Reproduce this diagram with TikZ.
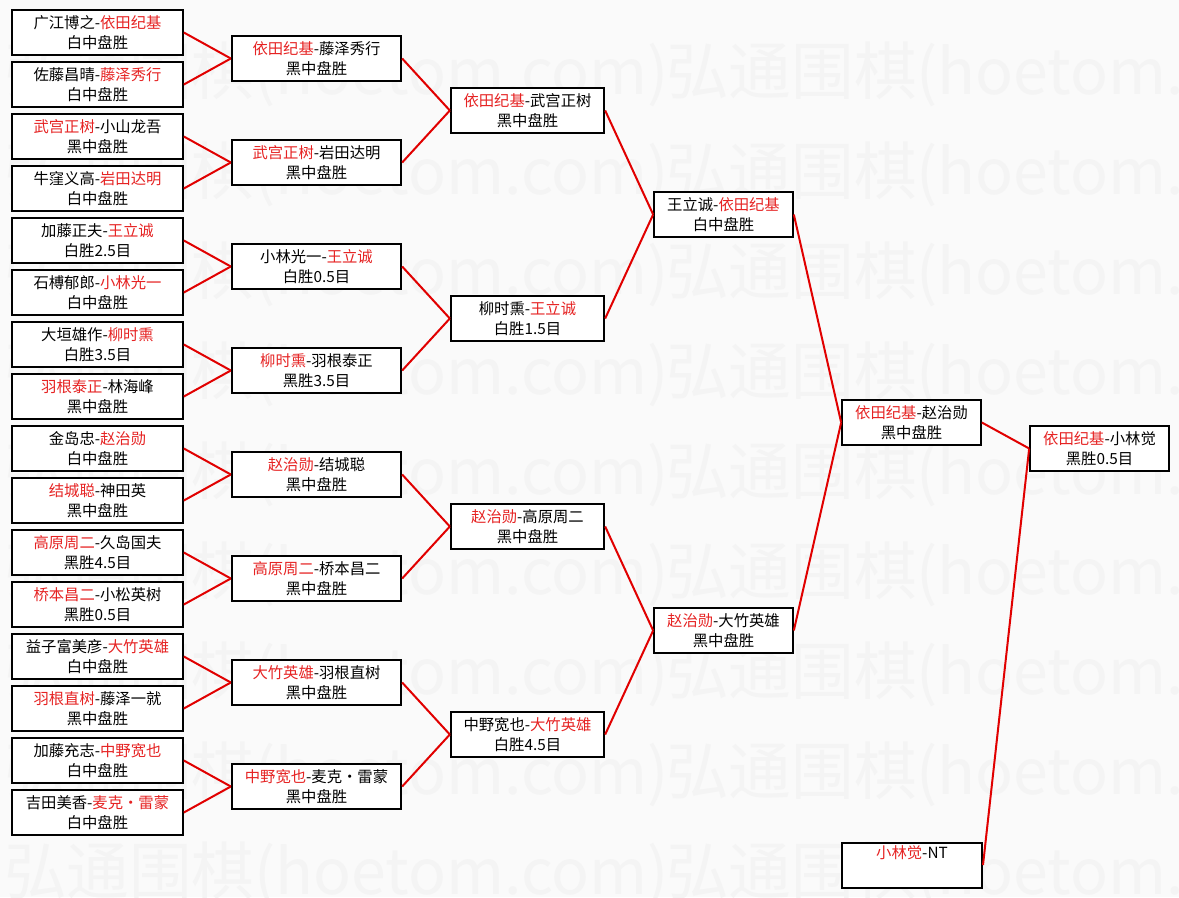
\documentclass[tikz,border=0pt]{standalone}
\usepackage{fontspec}
\setmainfont{Noto Sans CJK SC}
\usepackage{tikz}
\usetikzlibrary{positioning}
\definecolor{winred}{RGB}{230,35,35}
\definecolor{lnred}{RGB}{225,0,0}
\newcommand{\rd}[1]{\textcolor{winred}{#1}}

\begin{document}
\begin{tikzpicture}[x=0.75pt, y=-0.75pt, line width=1.5pt,
   r1/.style={minimum width=128pt},
   r2/.style={minimum width=127pt},
   r3/.style={minimum width=115pt},
   r4/.style={minimum width=104pt}]
   \fill[black!2] (0,0) rectangle (1179,897);
   \useasboundingbox (0,0) rectangle (1179,897);
   % watermark
   \begin{scope}[every node/.style={anchor=west, inner sep=0pt, text=black!4.5, font=\fontsize{47}{47}\selectfont}]
    \clip (0,0) rectangle (1179,897);
    \foreach \y in {74,174,...,874} {
     \node (wma\y) at (3,\y) {弘通围棋(hoetom.com)};
     \node (wmb\y) at (665,\y) {弘通围棋(hoetom.com)};
    }
   \end{scope}
   \begin{scope}[every node/.style={rectangle, draw=black, fill=white, inner sep=0pt, minimum height=33.75pt, align=center, font=\fontsize{11.5}{15}\selectfont}]
    % first round
    \node (a1) [r1] at (97.5,32.5) {广江博之-\rd{依田纪基}\\白中盘胜};
    \node (a2) [r1] at (97.5,84.5) {佐藤昌晴-\rd{藤泽秀行}\\白中盘胜};
    \node (a3) [r1] at (97.5,136.5) {\rd{武宫正树}-小山龙吾\\黑中盘胜};
    \node (a4) [r1] at (97.5,188.5) {牛窪义高-\rd{岩田达明}\\白中盘胜};
    \node (a5) [r1] at (97.5,240.5) {加藤正夫-\rd{王立诚}\\白胜2.5目};
    \node (a6) [r1] at (97.5,292.5) {石榑郁郎-\rd{小林光一}\\白中盘胜};
    \node (a7) [r1] at (97.5,344.5) {大垣雄作-\rd{柳时熏}\\白胜3.5目};
    \node (a8) [r1] at (97.5,396.5) {\rd{羽根泰正}-林海峰\\黑中盘胜};
    \node (a9) [r1] at (97.5,448.5) {金岛忠-\rd{赵治勋}\\白中盘胜};
    \node (a10) [r1] at (97.5,500.5) {\rd{结城聪}-神田英\\黑中盘胜};
    \node (a11) [r1] at (97.5,552.5) {\rd{高原周二}-久岛国夫\\黑胜4.5目};
    \node (a12) [r1] at (97.5,604.5) {\rd{桥本昌二}-小松英树\\黑胜0.5目};
    \node (a13) [r1] at (97.5,656.5) {益子富美彦-\rd{大竹英雄}\\白中盘胜};
    \node (a14) [r1] at (97.5,708.5) {\rd{羽根直树}-藤泽一就\\黑中盘胜};
    \node (a15) [r1] at (97.5,760.5) {加藤充志-\rd{中野宽也}\\白中盘胜};
    \node (a16) [r1] at (97.5,812.5) {吉田美香-\rd{麦克・雷蒙}\\白中盘胜};
    % second round
    \node (b1) [r2] at (316.5,58.5) {\rd{依田纪基}-藤泽秀行\\黑中盘胜};
    \node (b2) [r2] at (316.5,162.5) {\rd{武宫正树}-岩田达明\\黑中盘胜};
    \node (b3) [r2] at (316.5,266.5) {小林光一-\rd{王立诚}\\白胜0.5目};
    \node (b4) [r2] at (316.5,370.5) {\rd{柳时熏}-羽根泰正\\黑胜3.5目};
    \node (b5) [r2] at (316.5,474.5) {\rd{赵治勋}-结城聪\\黑中盘胜};
    \node (b6) [r2] at (316.5,578.5) {\rd{高原周二}-桥本昌二\\黑中盘胜};
    \node (b7) [r2] at (316.5,682.5) {\rd{大竹英雄}-羽根直树\\黑中盘胜};
    \node (b8) [r2] at (316.5,786.5) {\rd{中野宽也}-麦克・雷蒙\\黑中盘胜};
    % quarter finals
    \node (c1) [r3] at (527.5,110.5) {\rd{依田纪基}-武宫正树\\黑中盘胜};
    \node (c2) [r3] at (527.5,318.5) {柳时熏-\rd{王立诚}\\白胜1.5目};
    \node (c3) [r3] at (527.5,526.5) {\rd{赵治勋}-高原周二\\黑中盘胜};
    \node (c4) [r3] at (527.5,734.5) {中野宽也-\rd{大竹英雄}\\白胜4.5目};
    % semi finals
    \node (d1) [r4] at (723.5,214.5) {王立诚-\rd{依田纪基}\\白中盘胜};
    \node (d2) [r4] at (723.5,630.5) {\rd{赵治勋}-大竹英雄\\黑中盘胜};
    \node (e1) [r4] at (911.5,422.5) {\rd{依田纪基}-赵治勋\\黑中盘胜};
    % final
    \node (f1) [r4] at (1099.5,448.5) {\rd{依田纪基}-小林觉\\黑胜0.5目};
    \node (g1) [r4, minimum width=105pt] at (912,865) {\rd{小林觉}-NT\\\strut};
   \end{scope}
   \begin{scope}[every edge/.style={draw=lnred, line width=1.5pt}]
    \draw (a1.east) edge (b1.west);
    \draw (a2.east) edge (b1.west);
    \draw (a3.east) edge (b2.west);
    \draw (a4.east) edge (b2.west);
    \draw (a5.east) edge (b3.west);
    \draw (a6.east) edge (b3.west);
    \draw (a7.east) edge (b4.west);
    \draw (a8.east) edge (b4.west);
    \draw (a9.east) edge (b5.west);
    \draw (a10.east) edge (b5.west);
    \draw (a11.east) edge (b6.west);
    \draw (a12.east) edge (b6.west);
    \draw (a13.east) edge (b7.west);
    \draw (a14.east) edge (b7.west);
    \draw (a15.east) edge (b8.west);
    \draw (a16.east) edge (b8.west);
    \draw (b1.east) edge (c1.west);
    \draw (b2.east) edge (c1.west);
    \draw (b3.east) edge (c2.west);
    \draw (b4.east) edge (c2.west);
    \draw (b5.east) edge (c3.west);
    \draw (b6.east) edge (c3.west);
    \draw (b7.east) edge (c4.west);
    \draw (b8.east) edge (c4.west);
    \draw (c1.east) edge (d1.west);
    \draw (c2.east) edge (d1.west);
    \draw (c3.east) edge (d2.west);
    \draw (c4.east) edge (d2.west);
    \draw (d1.east) edge (e1.west);
    \draw (d2.east) edge (e1.west);
    \draw (e1.east) edge (f1.west);
    \draw (g1.east) edge (f1.west);
   \end{scope}
\end{tikzpicture}
\end{document}
